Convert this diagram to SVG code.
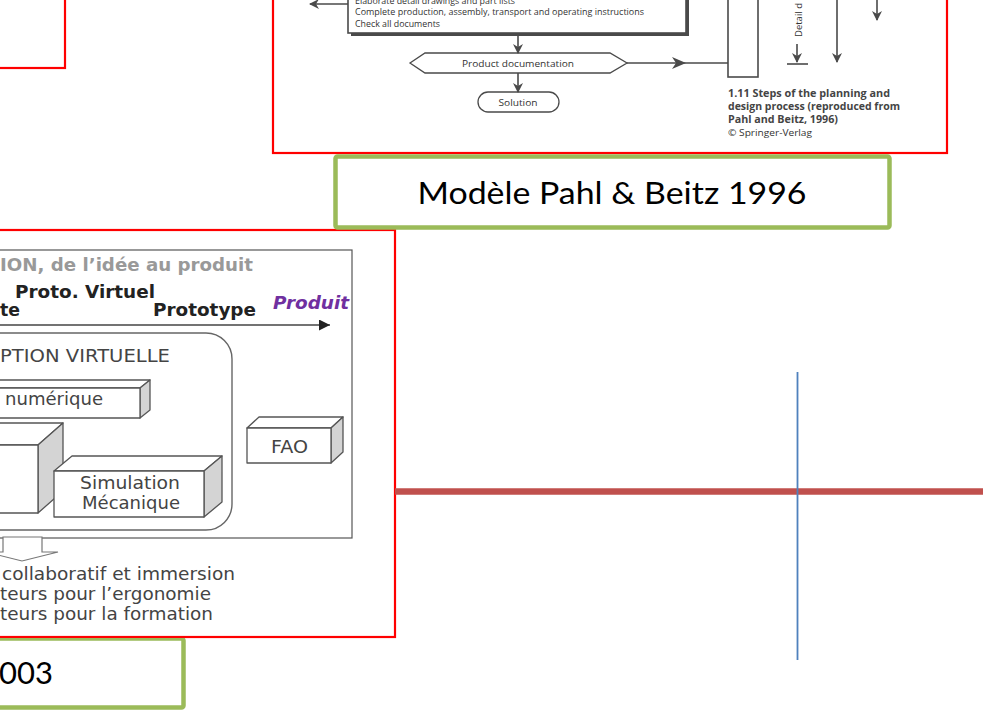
<svg xmlns="http://www.w3.org/2000/svg" width="983" height="726" viewBox="0 0 983 726">
<defs>
<style>
.frame{fill:none;stroke:#FF0000;stroke-width:2.2}
.green{fill:#FFFFFF;stroke:#9BBB59;stroke-width:4.5}
.lbl{font-family:Lato,"Open Sans",sans-serif;font-size:31px;fill:#000}
.fc{font-family:"Open Sans","Liberation Sans",sans-serif;font-size:9.5px;fill:#333}
.cap{font-family:"Open Sans","Liberation Sans",sans-serif;font-size:10px;fill:#444;font-weight:bold}
.ln{fill:none;stroke:#4a4a4a;stroke-width:1.6}
.vb{font-family:"DejaVu Sans",Verdana,sans-serif;font-size:17.5px;fill:#444}
.vbb{font-family:"DejaVu Sans",Verdana,sans-serif;font-size:17.5px;font-weight:bold;fill:#222}
.bx{fill:#FFFFFF;stroke:#555;stroke-width:1.3;stroke-linejoin:round}
.bxs{fill:#D4D4D4;stroke:#555;stroke-width:1.3;stroke-linejoin:round}
</style>
<marker id="ah" viewBox="0 0 10 10" refX="9" refY="5" markerWidth="10" markerHeight="10" markerUnits="userSpaceOnUse" orient="auto">
<path d="M0,0 L10,5 L0,10 L3,5 z" fill="#4a4a4a"/>
</marker>
<marker id="ahb" viewBox="0 0 10 10" refX="10" refY="5" markerWidth="11" markerHeight="11" markerUnits="userSpaceOnUse" orient="auto">
<path d="M0,0 L10,5 L0,10 z" fill="#222"/>
</marker>
<filter id="sh" x="-5%" y="-100%" width="110%" height="400%">
<feGaussianBlur stdDeviation="2"/>
</filter>
</defs>
<rect width="983" height="726" fill="#FFFFFF"/>

<!-- top-left frame -->
<g id="frame-topleft">
<rect class="frame" x="-10" y="-10" width="75" height="78"/>
</g>

<!-- Pahl & Beitz flowchart -->
<g id="pahl-frame">
<rect class="frame" x="273" y="-10" width="674" height="163"/>
</g>
<g id="pahl-box">
<rect x="351" y="-7" width="338" height="43" fill="#4a4a4a"/>
<rect x="348" y="-10" width="338" height="43" fill="#FFFFFF" stroke="#4a4a4a" stroke-width="1.6"/>
<text class="fc" x="355" y="3.5" textLength="160" lengthAdjust="spacingAndGlyphs">Elaborate detail drawings and part lists</text>
<text class="fc" x="355" y="15" textLength="289" lengthAdjust="spacingAndGlyphs">Complete production, assembly, transport and operating instructions</text>
<text class="fc" x="355" y="27" textLength="85" lengthAdjust="spacingAndGlyphs">Check all documents</text>
</g>
<g id="pahl-doc">
<polygon points="410,63 425,53 610,53 627,63 610,73 425,73" fill="#FFFFFF" stroke="#4a4a4a" stroke-width="1.3"/>
<text class="fc" x="518" y="67" text-anchor="middle" font-size="10" textLength="112" lengthAdjust="spacingAndGlyphs">Product documentation</text>
</g>
<g id="pahl-solution">
<rect x="478" y="92" width="81" height="20" rx="10" fill="#FFFFFF" stroke="#4a4a4a" stroke-width="1.3"/>
<text class="fc" x="518" y="106" text-anchor="middle" font-size="10" textLength="39" lengthAdjust="spacingAndGlyphs">Solution</text>
</g>
<g id="pahl-bar">
<rect x="728" y="-5" width="30" height="82" fill="#FFFFFF" stroke="#4a4a4a" stroke-width="1.6"/>
</g>
<g id="pahl-side">
<text class="fc" transform="translate(802,37) rotate(-90)" x="0" y="0" font-size="10.5">Detail d</text>
<line class="ln" x1="787" y1="64" x2="808" y2="64"/>
</g>
<g id="pahl-caption">
<text class="cap" x="728" y="97" textLength="162" lengthAdjust="spacingAndGlyphs">1.11 Steps of the planning and</text>
<text class="cap" x="728" y="110" textLength="172" lengthAdjust="spacingAndGlyphs">design process (reproduced from</text>
<text class="cap" x="728" y="123" textLength="110" lengthAdjust="spacingAndGlyphs">Pahl and Beitz, 1996)</text>
<text class="fc" x="728" y="136" textLength="84" lengthAdjust="spacingAndGlyphs" font-size="9.5">© Springer-Verlag</text>
</g>

<!-- left picture frame (drawn before green label 1) -->
<g id="cao-frame">
<rect class="frame" x="-10" y="230" width="405" height="407"/>
</g>

<g id="label-pahl">
<rect class="green" x="335.5" y="156.5" width="554" height="71" rx="2"/>
<text class="lbl" x="612" y="204" text-anchor="middle" textLength="389" lengthAdjust="spacingAndGlyphs">Modèle Pahl &amp; Beitz 1996</text>
</g>

<!-- CAO picture -->
<g id="cao-picture">
<rect x="-5" y="250" width="357" height="288" fill="#FFFFFF" stroke="#555" stroke-width="1.2"/>
<text x="0" y="271" font-family="'DejaVu Sans',Verdana,sans-serif" font-size="17" font-weight="bold" fill="#999" textLength="253" lengthAdjust="spacingAndGlyphs">ION, de l’idée au produit</text>
<text class="vbb" x="15" y="298" textLength="140" lengthAdjust="spacingAndGlyphs">Proto. Virtuel</text>
<text class="vbb" x="0" y="316" textLength="20" lengthAdjust="spacingAndGlyphs">te</text>
<text class="vbb" x="153" y="316" textLength="103" lengthAdjust="spacingAndGlyphs">Prototype</text>
<text x="273" y="309" font-family="'DejaVu Sans',Verdana,sans-serif" font-size="17.5" font-weight="bold" font-style="italic" fill="#7030A0" textLength="76" lengthAdjust="spacingAndGlyphs">Produit</text>
</g>
<g id="cao-virtual">
<rect x="-30" y="333" width="262" height="197" rx="26" fill="none" stroke="#666" stroke-width="1.4"/>
<text class="vb" x="0" y="362" fill="#333" textLength="170" lengthAdjust="spacingAndGlyphs">PTION VIRTUELLE</text>
</g>
<g id="box-numerique">
<polygon class="bx" points="-20,388 140,388 150,380 -10,380"/>
<polygon class="bxs" points="140,388 150,380 150,410 140,418"/>
<rect class="bx" x="-20" y="388" width="160" height="30"/>
<text class="vb" x="5" y="405" textLength="98" lengthAdjust="spacingAndGlyphs">numérique</text>
</g>
<g id="box-big">
<polygon class="bx" points="-60,445 38,445 63,423 -35,423"/>
<polygon class="bxs" points="38,445 63,423 63,491 38,513"/>
<rect class="bx" x="-60" y="445" width="98" height="68"/>
</g>
<g id="box-simulation">
<polygon class="bx" points="54,471 204,471 222,456 72,456"/>
<polygon class="bxs" points="204,471 222,456 222,502 204,517"/>
<rect class="bx" x="54" y="471" width="150" height="46"/>
<text class="vb" x="130" y="489" text-anchor="middle" textLength="100" lengthAdjust="spacingAndGlyphs">Simulation</text>
<text class="vb" x="131" y="509" text-anchor="middle" textLength="98" lengthAdjust="spacingAndGlyphs">Mécanique</text>
</g>
<g id="box-fao">
<polygon class="bx" points="247,428 331,428 343,417 259,417"/>
<polygon class="bxs" points="331,428 343,417 343,452 331,463"/>
<rect class="bx" x="247" y="428" width="84" height="35"/>
<text class="vb" x="289.5" y="453" text-anchor="middle" textLength="37" lengthAdjust="spacingAndGlyphs">FAO</text>
</g>
<g id="cao-outputs">
<text class="vb" x="2" y="580" fill="#333" textLength="233" lengthAdjust="spacingAndGlyphs">collaboratif et immersion</text>
<text class="vb" x="0" y="600" fill="#333" textLength="211" lengthAdjust="spacingAndGlyphs">teurs pour l’ergonomie</text>
<text class="vb" x="0" y="620" fill="#333" textLength="213" lengthAdjust="spacingAndGlyphs">teurs pour la formation</text>
</g>

<g id="label-cao">
<rect class="green" x="-10" y="638.5" width="193.5" height="69" rx="2"/>
<text class="lbl" x="-1" y="684" font-size="32" textLength="54" lengthAdjust="spacingAndGlyphs">003</text>
</g>
<g id="cao-frame-bottom">
<line x1="-10" y1="637" x2="396" y2="637" stroke="#FF0000" stroke-width="2.2"/>
</g>

<!-- connectors -->
<g id="connectors">
<line class="ln" x1="348" y1="4" x2="310" y2="4" marker-end="url(#ah)"/>
<line class="ln" x1="518" y1="36" x2="518" y2="53" marker-end="url(#ah)"/>
<line class="ln" x1="518" y1="73" x2="518" y2="92" marker-end="url(#ah)"/>
<line class="ln" x1="627" y1="63" x2="728" y2="63"/>
<path d="M686,63 L672,57 L676,63 L672,69 z" fill="#4a4a4a"/>
<line class="ln" x1="797" y1="44" x2="797" y2="62" marker-end="url(#ah)"/>
<line class="ln" x1="837" y1="-5" x2="837" y2="62" marker-end="url(#ah)"/>
<line class="ln" x1="877" y1="-5" x2="877" y2="20" marker-end="url(#ah)"/>
<line x1="-5" y1="325" x2="330" y2="325" stroke="#444" stroke-width="1.4" marker-end="url(#ahb)"/>
<polygon points="3,537 42,537 42,552 58,552 22,561 -14,552 3,552" fill="#FFFFFF" stroke="#777" stroke-width="1.2"/>
<line x1="395" y1="495" x2="983" y2="495" stroke="#000" stroke-opacity="0.35" stroke-width="6" filter="url(#sh)"/>
<line x1="395" y1="491.5" x2="983" y2="491.5" stroke="#C0504D" stroke-width="6.5"/>
<line x1="797.5" y1="372" x2="797.5" y2="660" stroke="#4F81BD" stroke-width="1.8"/>
</g>
</svg>
